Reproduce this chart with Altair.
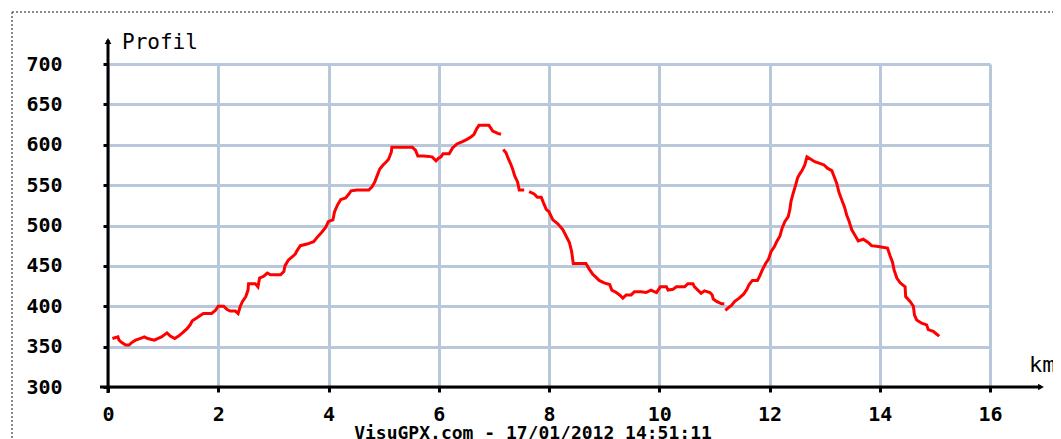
import altair as alt
import pandas as pd

# ---- data (km, elevation in m), split where the trace has gaps
seg1_km = [0.08, 0.18, 0.2, 0.25, 0.32, 0.38, 0.43, 0.5, 0.58, 0.66, 0.72, 0.84, 0.9, 0.97,
           1.07, 1.13, 1.21, 1.28, 1.35, 1.43, 1.49, 1.53, 1.6, 1.66, 1.73, 1.88, 1.95, 2.0,
           2.1, 2.16, 2.22, 2.31, 2.36, 2.4, 2.44, 2.5, 2.54, 2.55, 2.67, 2.72, 2.75, 2.82,
           2.89, 2.95, 3.13, 3.19, 3.21, 3.27, 3.34, 3.4, 3.43, 3.49, 3.61, 3.73, 3.79, 3.87,
           3.95, 4.0, 4.08, 4.11, 4.16, 4.22, 4.31, 4.37, 4.41, 4.52, 4.73, 4.79, 4.84, 4.89,
           4.93, 4.99, 5.05, 5.09, 5.14, 5.15, 5.31, 5.52, 5.58, 5.62, 5.73, 5.88, 5.95, 5.99,
           6.04, 6.08, 6.19, 6.25, 6.33, 6.43, 6.52, 6.59, 6.64, 6.69, 6.73, 6.91, 6.98, 7.07, 7.13]
seg1_m = [360, 362, 358, 355, 352, 352, 355, 358, 360, 362, 360, 358, 360, 362,
          367, 363, 360, 363, 367, 372, 377, 382, 385, 388, 391, 391, 395, 400,
          400, 396, 394, 394, 391, 400, 406, 412, 420, 428, 428, 424, 435, 437,
          441, 439, 439, 443, 450, 457, 461, 465, 469, 475, 477, 480, 485, 491,
          498, 505, 507, 517, 525, 532, 534, 539, 543, 544, 544, 548, 554, 563,
          570, 575, 579, 582, 591, 597, 597, 597, 593, 586, 586, 585, 580, 583,
          585, 589, 589, 596, 601, 604, 607, 610, 613, 620, 624, 624, 617, 614, 613]

seg2_km = [7.17, 7.22, 7.26, 7.30, 7.34, 7.38, 7.43, 7.46, 7.55]
seg2_m = [594, 590, 583, 577, 570, 561, 554, 544, 544]

seg3_km = [7.64, 7.73, 7.79, 7.86, 7.9, 7.95, 8.0, 8.07, 8.16, 8.25, 8.31, 8.37, 8.41, 8.44,
           8.58, 8.67, 8.73, 8.79, 8.85, 8.91, 9.0, 9.1, 9.14, 9.22, 9.28, 9.34, 9.4, 9.49,
           9.55, 9.67, 9.76, 9.85, 9.95, 10.02, 10.13, 10.16, 10.25, 10.31, 10.46, 10.52,
           10.61, 10.64, 10.70, 10.76, 10.82, 10.92, 10.96, 10.98, 11.04, 11.13, 11.18]
seg3_m = [542, 539, 535, 535, 528, 520, 517, 507, 502, 495, 487, 479, 468, 453,
          453, 453, 446, 440, 436, 432, 429, 427, 420, 417, 414, 410, 414, 414,
          418, 418, 417, 420, 417, 424, 424, 420, 421, 424, 424, 428,
          428, 424, 420, 416, 419, 417, 414, 409, 406, 403, 403]

seg4_km = [11.2, 11.25, 11.31, 11.37, 11.45, 11.53, 11.59, 11.63, 11.69, 11.78, 11.82, 11.87,
           11.93, 11.98, 12.03, 12.09, 12.13, 12.19, 12.23, 12.28, 12.34, 12.37, 12.39, 12.43,
           12.47, 12.51, 12.55, 12.59, 12.64, 12.68, 12.75, 12.82, 12.91, 12.99, 13.05, 13.13,
           13.17, 13.22, 13.26, 13.31, 13.36, 13.40, 13.44, 13.49, 13.55, 13.61, 13.7, 13.79,
           13.85, 13.97, 14.14, 14.19, 14.23, 14.26, 14.31, 14.37, 14.46, 14.47, 14.55, 14.61,
           14.63, 14.67, 14.76, 14.85, 14.88, 14.97, 15.04, 15.08]
seg4_m = [395, 398, 401, 406, 410, 415, 421, 427, 432, 432, 437, 445,
          453, 458, 468, 474, 480, 487, 497, 505, 511, 520, 530, 540,
          549, 559, 564, 568, 575, 585, 582, 579, 577, 575, 571, 568,
          561, 552, 541, 532, 523, 513, 506, 495, 488, 481, 483, 479,
          475, 474, 472, 462, 455, 445, 435, 429, 424, 412, 406, 400,
          389, 383, 379, 377, 371, 369, 365, 363]

x_ticks = [0, 2, 4, 6, 8, 10, 12, 14, 16]
y_ticks = [300, 350, 400, 450, 500, 550, 600, 650, 700]

title_text = "Profil"
unit_text = "km"
footer_text = "VisuGPX.com - 17/01/2012 14:51:11"

rows = []
for sid, (ks, ms) in enumerate([(seg1_km, seg1_m), (seg2_km, seg2_m),
                                 (seg3_km, seg3_m), (seg4_km, seg4_m)]):
    for k, m in zip(ks, ms):
        rows.append({"km": k, "alt": m, "seg": sid})
df = pd.DataFrame(rows)

W, H = 882, 323
FONT = "DejaVu Sans Mono"
GRID = "#b8c7d9"

one = alt.Data(values=[{"a": 1}])

line = alt.Chart(df).mark_line(color="#ff0000", strokeWidth=3).encode(
    x=alt.X("km:Q", scale=alt.Scale(domain=[0, 16], nice=False, zero=False),
            axis=alt.Axis(values=x_ticks, title="", grid=True, gridColor=GRID, gridWidth=3,
                          gridOpacity=1, domain=False, ticks=True, tickColor="black",
                          tickWidth=3, tickSize=5, labelFont=FONT, labelFontSize=20,
                          labelFontWeight="bold", labelColor="black", labelPadding=12,
                          labelFlush=False, labelOverlap=False)),
    y=alt.Y("alt:Q", scale=alt.Scale(domain=[300, 700], nice=False, zero=False),
            axis=alt.Axis(values=y_ticks, title="", grid=True, gridColor=GRID, gridWidth=3,
                          gridOpacity=1, domain=False, ticks=True, tickColor="black",
                          tickWidth=3, tickSize=5, labelFont=FONT, labelFontSize=20,
                          labelFontWeight="bold", labelColor="black", labelPadding=41,
                          labelFlush=False, labelOverlap=False)),
    detail="seg:N",
)

y_axis_line = alt.Chart(one).mark_rule(color="black", strokeWidth=3).encode(
    x=alt.value(0), y=alt.value(-24), y2=alt.value(H + 6))
x_axis_line = alt.Chart(one).mark_rule(color="black", strokeWidth=3).encode(
    x=alt.value(-8), x2=alt.value(933), y=alt.value(H))
y_arrow = alt.Chart(one).mark_point(shape="triangle-up", filled=True, color="black",
                                    size=45, opacity=1).encode(
    x=alt.value(0), y=alt.value(-23))
x_arrow = alt.Chart(one).mark_point(shape="triangle-right", filled=True, color="black",
                                    size=45, opacity=1).encode(
    x=alt.value(933), y=alt.value(H))

frame_top = alt.Chart(one).mark_rule(color="#666666", strokeWidth=1.5, strokeDash=[2, 2]).encode(
    x=alt.value(-96), x2=alt.value(960), y=alt.value(-52))
frame_left = alt.Chart(one).mark_rule(color="#666666", strokeWidth=1.5, strokeDash=[2, 2]).encode(
    x=alt.value(-96), y=alt.value(-52), y2=alt.value(H + 60))

title = alt.Chart(one).mark_text(text=title_text, font=FONT, fontSize=21, align="left",
                                 baseline="middle", color="black").encode(
    x=alt.value(14), y=alt.value(-21))
unit = alt.Chart(one).mark_text(text=unit_text, font=FONT, fontSize=22, align="left",
                                baseline="middle", color="black").encode(
    x=alt.value(921), y=alt.value(H - 22))
footer = alt.Chart(one).mark_text(text=footer_text, font=FONT, fontSize=18, fontWeight="bold",
                                  align="center", baseline="middle", color="black").encode(
    x=alt.value(425), y=alt.value(H + 47))

chart = alt.layer(
    line, y_axis_line, x_axis_line, y_arrow, x_arrow, frame_top, frame_left, title, unit, footer
).properties(
    width=W, height=H,
    autosize=alt.AutoSizeParams(type="none"),
    padding={"left": 100, "top": 56, "right": 1045 - 100 - W, "bottom": 52},
    background="white",
).configure_view(strokeWidth=0)

chart.save("out.html", embed_options={"renderer": "svg", "actions": False})
